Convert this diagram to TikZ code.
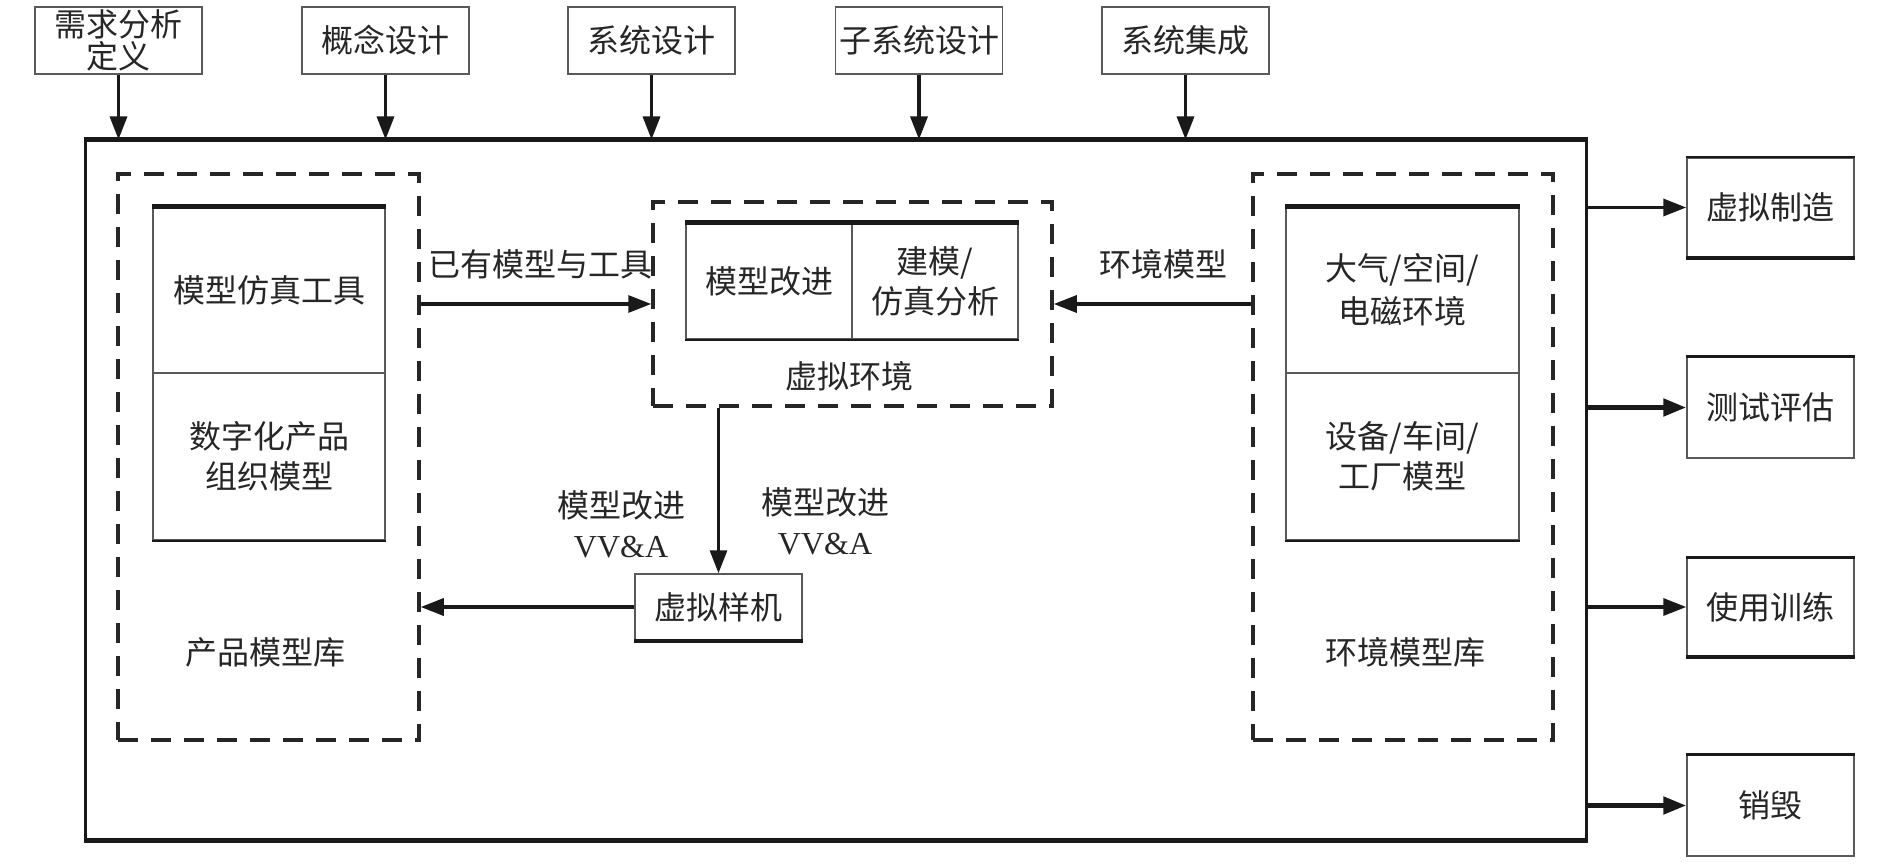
\documentclass[tikz,border=0pt]{standalone}
\usepackage{fontspec}
\setmainfont{Noto Sans CJK SC}
\newfontfamily\latinserif{Liberation Serif}
\usetikzlibrary{arrows.meta}
\begin{document}
\begin{tikzpicture}[x=1pt,y=-1pt,
  txt/.style={font=\fontsize{32}{40}\selectfont, align=center, inner sep=0pt, text=black!85},
  thinbox/.style={draw=black!65, line width=1.5pt, inner sep=0pt, font=\fontsize{32}{40}\selectfont, align=center, text=black!85},
  dashbox/.style={draw=black!85, line width=3.5pt, dash pattern=on 20pt off 13pt, inner sep=0pt},
  arr/.style={draw=black!90, line width=3.2pt, -{Triangle[length=23pt,width=17pt]}},
  arrthick/.style={arr, line width=5pt},
  thickedge/.style={line width=4.5pt, black!90}
]
\useasboundingbox (0,0) rectangle (1890,864);
\fill[white] (0,0) rectangle (1890,864);

% top stage boxes
\node[thinbox, minimum width=167pt, minimum height=67pt, font=\fontsize{32}{32}\selectfont] (t1) at (118.5,40.5) {需求分析\\定义};
\node[thinbox, minimum width=167pt, minimum height=67pt] (t2) at (385.5,40.5) {概念设计};
\node[thinbox, minimum width=167pt, minimum height=67pt] (t3) at (651.5,40.5) {系统设计};
\node[thinbox, minimum width=167pt, minimum height=67pt] (t4) at (919,40.5) {子系统设计};
\node[thinbox, minimum width=167pt, minimum height=67pt] (t5) at (1185.5,40.5) {系统集成};

% main box
\node[draw=black!90, line width=3pt, minimum width=1501pt, minimum height=698pt, inner sep=0pt] (main) at (835.5,490) {};
\draw[line width=5.5pt, black!90] (main.north west) -- (main.north east);
\draw[line width=5.5pt, black!90] (main.south west) -- (main.south east);

\foreach \t in {t1,t2,t3,t4,t5}
  \draw[arr] (\t.south) -- (\t.south |- main.north);

% product model library
\node[dashbox, minimum width=301pt, minimum height=566pt] (lib1) at (268.5,457) {};
\node[thinbox, minimum width=232pt, minimum height=166pt] (pm1) at (269,290) {模型仿真工具};
\node[thinbox, minimum width=232pt, minimum height=167pt] (pm2) at (269,456.5) {数字化产品\\组织模型};
\draw[thickedge] (pm1.north west) -- (pm1.north east);
\draw[line width=2pt, black!90] (pm2.south west) -- (pm2.south east);
\node[txt] (lib1lbl) at (265,652) {产品模型库};

% virtual environment
\node[dashbox, minimum width=399pt, minimum height=204pt] (venv) at (852.5,304) {};
\node[thinbox, minimum width=166pt, minimum height=116pt] (ve1) at (769,281) {模型改进};
\node[thinbox, minimum width=166pt, minimum height=116pt] (ve2) at (935,281) {建模/\\仿真分析};
\draw[thickedge] (ve1.north west) -- (ve2.north east);
\draw[line width=2pt, black!90] (ve1.south west) -- (ve2.south east);
\node[txt] (venvlbl) at (849,376) {虚拟环境};

% environment model library
\node[dashbox, minimum width=300pt, minimum height=566pt] (lib2) at (1403,457) {};
\node[thinbox, minimum width=233pt, minimum height=166pt, font=\fontsize{32}{43}\selectfont] (em1) at (1402.5,290) {大气/空间/\\电磁环境};
\node[thinbox, minimum width=233pt, minimum height=167pt] (em2) at (1402.5,456.5) {设备/车间/\\工厂模型};
\draw[thickedge] (em1.north west) -- (em1.north east);
\draw[line width=2pt, black!90] (em2.south west) -- (em2.south east);
\node[txt] (lib2lbl) at (1405,652) {环境模型库};

% virtual prototype
\node[thinbox, minimum width=167pt, minimum height=66pt] (proto) at (718.5,607) {虚拟样机};
\draw[thickedge] (proto.south west) -- (proto.south east);

% connectors inside
\draw[arr] (lib1.east |- venv.center) -- (venv.west);
\node[txt] (l1) at (540,264) {已有模型与工具};
\draw[arr] (lib2.west |- venv.center) -- (venv.east);
\node[txt] (l2) at (1163,264) {环境模型};
\draw[arr] (proto.north |- venv.south) -- (proto.north);
\draw[arr, line width=3.5pt] (proto.west) -- (proto.west -| lib1.east);
\node[txt] (l3) at (621,524) {模型改进\\{\latinserif VV\&A}};
\node[txt] (l4) at (825,521) {模型改进\\{\latinserif VV\&A}};

% output boxes
\node[thinbox, minimum width=167pt, minimum height=99pt] (o1) at (1770.5,207.5) {虚拟制造};
\node[thinbox, minimum width=167pt, minimum height=101pt] (o2) at (1770.5,407.5) {测试评估};
\node[thinbox, minimum width=167pt, minimum height=98pt] (o3) at (1770.5,607) {使用训练};
\node[thinbox, minimum width=167pt, minimum height=101pt] (o4) at (1770.5,805.5) {销毁};
\draw[thickedge] (o1.south west) -- (o1.south east);
\draw[thickedge] (o3.south west) -- (o3.south east);
\draw[line width=2.5pt, black!90] (o1.north west) -- (o1.north east);
\draw[line width=2.5pt, black!90] (o2.north west) -- (o2.north east);
\draw[line width=2.5pt, black!90] (o3.north west) -- (o3.north east);
\draw[line width=2.5pt, black!90] (o4.north west) -- (o4.north east);

\draw[arr, line width=3.5pt] (main.east |- o1.west) -- (o1.west);
\draw[arrthick] (main.east |- o2.west) -- (o2.west);
\draw[arr, line width=3.5pt] (main.east |- o3.west) -- (o3.west);
\draw[arrthick] (main.east |- o4.west) -- (o4.west);
\end{tikzpicture}
\end{document}
